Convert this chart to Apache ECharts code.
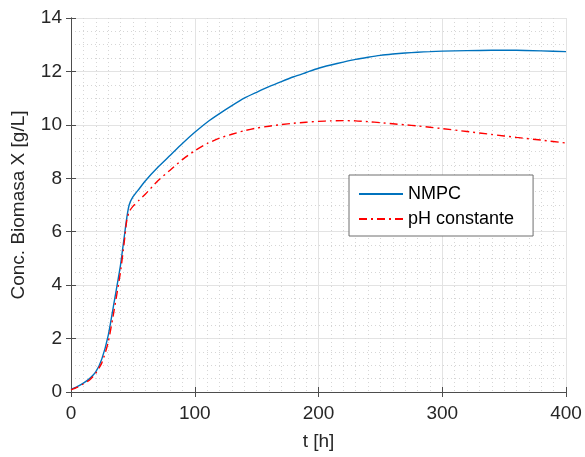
<!DOCTYPE html>
<html>
<head>
<meta charset="utf-8">
<script src="https://cdn.jsdelivr.net/npm/echarts@6/dist/echarts.min.js"></script>
<style>
html,body{margin:0;padding:0;background:#fff;}
#c{width:585px;height:457px;}
</style>
</head>
<body>
<div id="c"></div>
<script>
var timeH   = [0,5,10,15,20,25,30,35,40,43,45,47,50,55,60,70,80,90,100,110,120,130,140,150,160,170,180,190,200,210,220,230,240,250,260,270,280,290,300,320,340,360,380,400];
var nmpc    = [0.1,0.2,0.33,0.5,0.75,1.25,2.1,3.4,4.75,5.8,6.5,7.0,7.3,7.6,7.9,8.4,8.85,9.3,9.72,10.1,10.42,10.72,11.0,11.22,11.43,11.62,11.8,11.96,12.12,12.24,12.35,12.45,12.53,12.6,12.65,12.69,12.72,12.74,12.76,12.78,12.79,12.79,12.77,12.74];
var phConst = [0.08,0.17,0.3,0.45,0.7,1.1,1.85,3.1,4.5,5.6,6.4,6.75,6.95,7.18,7.4,7.9,8.3,8.7,9.03,9.3,9.5,9.65,9.78,9.88,9.95,10.01,10.06,10.1,10.13,10.15,10.16,10.15,10.12,10.08,10.04,10.0,9.96,9.91,9.86,9.75,9.64,9.53,9.43,9.32];
var seriesNames = ['NMPC','pH constante'];
var xTicks = [0,100,200,300,400];
var yTicks = [0,2,4,6,8,10,12,14];

function pairs(ys){ return timeH.map(function(t,i){ return [t, ys[i]]; }); }

var axisCol = '#4d4d4d';
var txtCol = '#262626';
var font = 'Liberation Sans, Arial, Helvetica, sans-serif';

var chart = echarts.init(document.getElementById('c'));
chart.setOption({
  animation:false,
  backgroundColor:'#fff',
  grid:{left:71,right:19,top:18,bottom:65},
  legend:{
    orient:'vertical', left:349, top:175,
    data:seriesNames,
    backgroundColor:'#fff', borderColor:'#6e6e6e', borderWidth:1,
    padding:[10,19,8,9], itemGap:7, itemWidth:44, itemHeight:14, itemTextGap:8,
    itemStyle:{opacity:0},
    textStyle:{fontFamily:font,fontSize:18,color:'#000'}
  },
  xAxis:[{
    type:'value', min:xTicks[0], max:xTicks[xTicks.length-1], interval:100,
    name:'t [h]', nameLocation:'middle', nameGap:40,
    nameTextStyle:{fontFamily:font,fontSize:19,color:txtCol},
    axisLine:{onZero:false,lineStyle:{color:axisCol,width:1}},
    axisTick:{inside:true,length:5,lineStyle:{color:axisCol}},
    axisLabel:{margin:12,fontFamily:font,fontSize:19,color:txtCol},
    splitLine:{show:true,lineStyle:{color:'#e3e3e3',width:1}},
    minorTick:{show:false,splitNumber:10},
    minorSplitLine:{show:true,lineStyle:{color:'#d6d6d6',width:1,type:[1,3]}}
  },{
    type:'value', position:'top', min:0, max:400, interval:100,
    axisLine:{lineStyle:{color:axisCol,width:1}},
    axisTick:{inside:true,length:5,lineStyle:{color:axisCol}},
    axisLabel:{show:false}, splitLine:{show:false}
  }],
  yAxis:[{
    type:'value', min:yTicks[0], max:yTicks[yTicks.length-1], interval:2,
    name:'Conc. Biomasa X [g/L]', nameLocation:'middle', nameGap:43,
    nameTextStyle:{fontFamily:font,fontSize:19,color:txtCol},
    axisLine:{show:true,onZero:false,lineStyle:{color:axisCol,width:1}},
    axisTick:{show:true,inside:true,length:5,lineStyle:{color:axisCol}},
    axisLabel:{margin:9,fontFamily:font,fontSize:19,color:txtCol},
    splitLine:{show:true,lineStyle:{color:'#e3e3e3',width:1}},
    minorTick:{show:false,splitNumber:4},
    minorSplitLine:{show:true,lineStyle:{color:'#d6d6d6',width:1,type:[1,3]}}
  },{
    type:'value', position:'right', min:0, max:14, interval:2,
    axisLine:{show:true,lineStyle:{color:axisCol,width:1}},
    axisTick:{show:true,inside:true,length:5,lineStyle:{color:axisCol}},
    axisLabel:{show:false}, splitLine:{show:false}
  }],
  series:[{
    name:seriesNames[0], type:'line', data:pairs(nmpc),
    showSymbol:false, symbol:'none', smooth:0.2,
    lineStyle:{color:'#0072BD',width:1.4}, itemStyle:{color:'#0072BD'}
  },{
    name:seriesNames[1], type:'line', data:pairs(phConst),
    showSymbol:false, symbol:'none', smooth:0.2,
    lineStyle:{color:'#FF0000',width:1.4,type:[8,4,2,4]}, itemStyle:{color:'#FF0000'}
  }]
});
</script>
</body>
</html>
